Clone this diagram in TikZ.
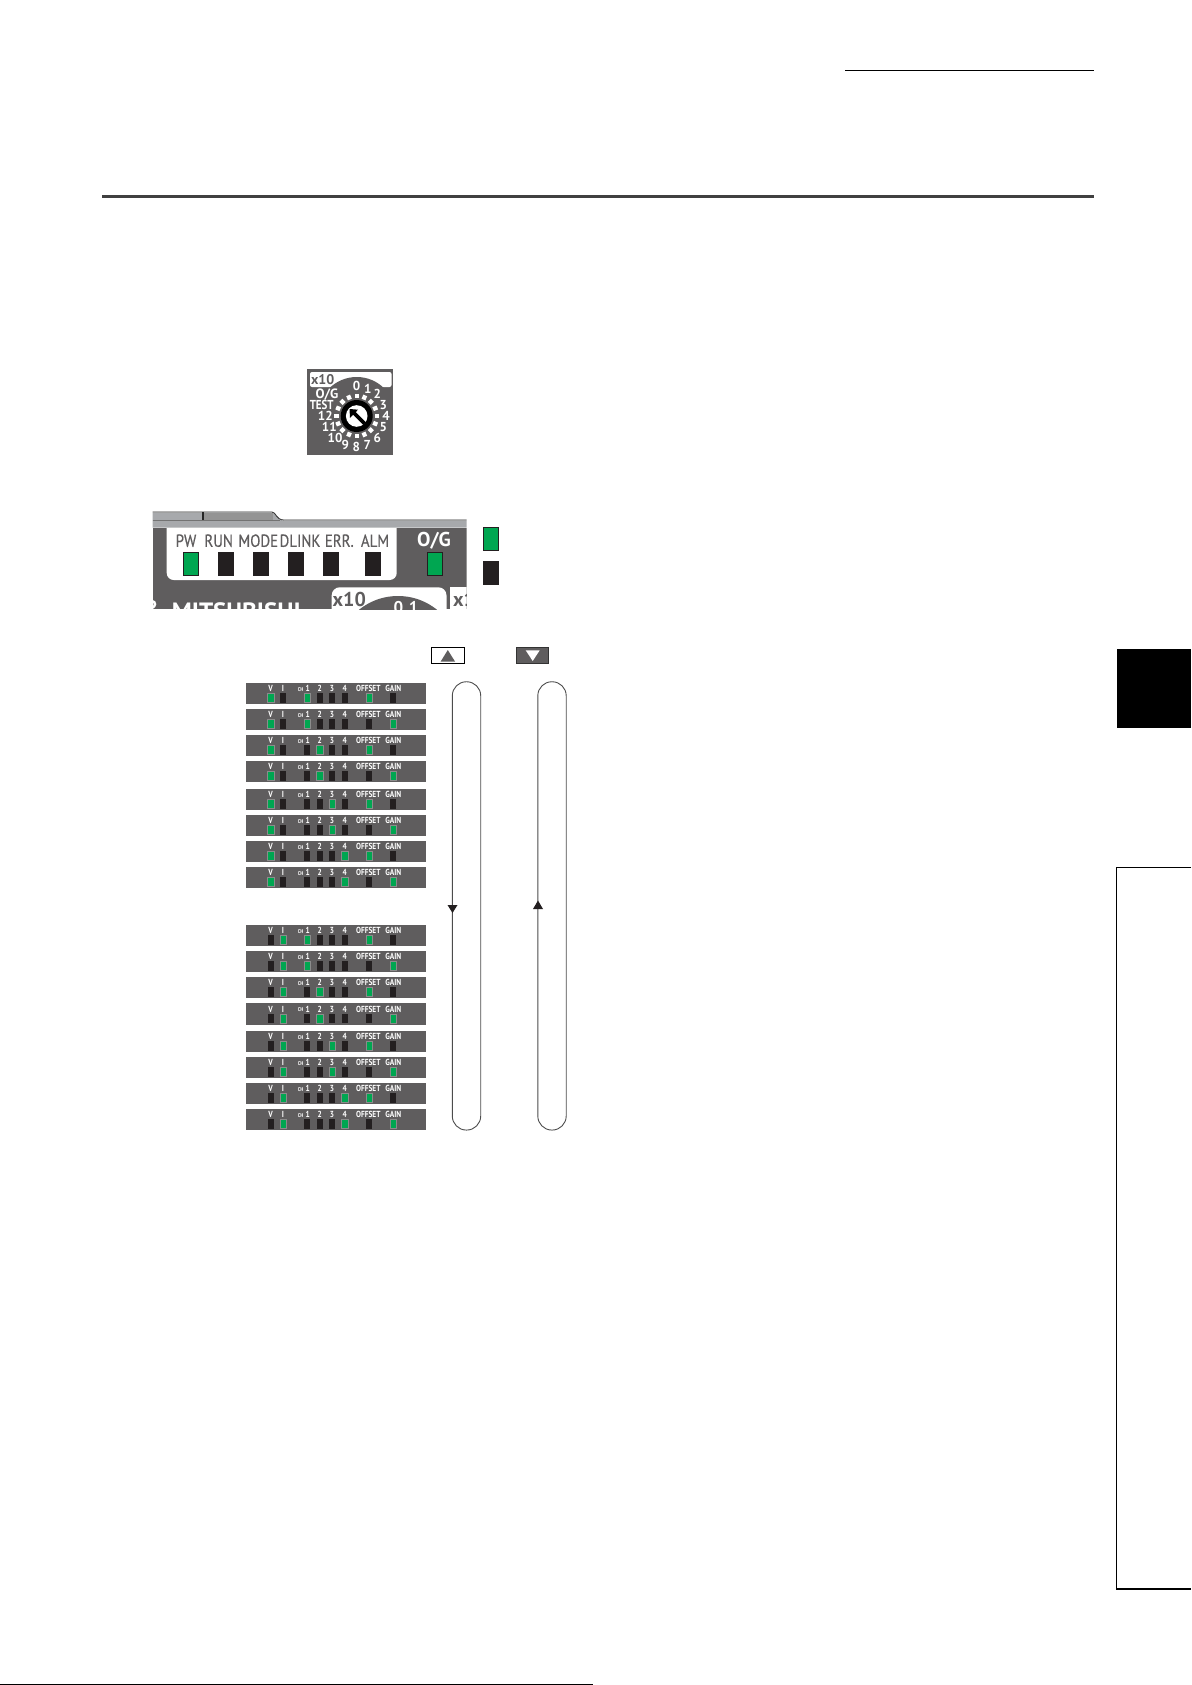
\documentclass[tikz,border=0pt]{standalone}
\usepackage{fontspec}
\setmainfont{PT Sans}
\newfontfamily\narrowfont[FakeStretch=0.85,FakeBold=0.4]{PT Sans}
\newfontfamily\stripfont[FakeStretch=0.84]{PT Sans}
\usepackage{tikz}

\definecolor{panelgray}{HTML}{5F5D5E}
\definecolor{bandgray}{HTML}{A7A9AC}
\definecolor{ledgreen}{HTML}{00A651}
\definecolor{ledblack}{HTML}{231F20}

% one strip: top edge, then x of lit V/I, CH and OFFSET/GAIN lamps
\newcommand{\ledstrip}[5]{
  \node[strip] (strip#1) at (336,#2+10.6) {};
  \node[striptext] (v#1) at (270.7,#2+5.6) {V};
  \node[striptext] (i#1) at (283,#2+5.6) {I};
  \node[striptext,font=\stripfont\bfseries\fontsize{5.5}{5.5}\selectfont] (ch#1) at (300.7,#2+6.2) {CH};
  \node[striptext] (one#1) at (307.7,#2+5.6) {1};
  \node[striptext] (two#1) at (319.7,#2+5.6) {2};
  \node[striptext] (three#1) at (332,#2+5.6) {3};
  \node[striptext] (four#1) at (344.7,#2+5.6) {4};
  \node[striptext] (off#1) at (368.3,#2+5.6) {OFFSET};
  \node[striptext] (gain#1) at (393.3,#2+5.6) {GAIN};
  \foreach \lampx in {270.7,283,307.3,319.7,332,344.7,369,393.3}
    \node[lampoff] at (\lampx,#2+15) {};
  \node[lampon] (a#1) at (#3,#2+15) {};
  \node[lampon] (b#1) at (#4,#2+15) {};
  \node[lampon] (c#1) at (#5,#2+15) {};
}

\begin{document}
\begin{tikzpicture}
  [x=1pt,y=-1pt]

  \tikzstyle{strip} = [fill=panelgray,minimum width=180,minimum height=21.3,inner sep=0]
  \tikzstyle{striptext} = [text=white,inner sep=0,font=\stripfont\bfseries\fontsize{8.8}{8.8}\selectfont]
  \tikzstyle{lampoff} = [fill=ledblack,minimum width=5.8,minimum height=9.2,inner sep=0]
  \tikzstyle{lampon} = [fill=ledgreen,draw=black!45,line width=.4,minimum width=6.2,minimum height=9.2,inner sep=0]
  \tikzstyle{bigled} = [minimum width=14.4,minimum height=23.4,inner sep=0,draw=ledblack,line width=.8]
  \tikzstyle{ledtext} = [text=panelgray,inner sep=0,font=\narrowfont\fontsize{17.5}{17.5}\selectfont]
  \tikzstyle{dialtext} = [text=white,inner sep=0,font=\bfseries\fontsize{13}{13}\selectfont]
  \tikzstyle{loopbox} = [draw=black!70,line width=.9,rounded corners=14,minimum width=28.4,minimum height=448.3,inner sep=0]

  \useasboundingbox (0,0) rectangle (1191,1685);

  % page furniture
  \draw[line width=1] (845,71) -- (1094,71);
  \draw[line width=3,draw=black!75] (102,197) -- (1094,197);
  \fill[black] (1117,649) rectangle (1191,727.7);
  \draw[line width=1.2] (1191,867.3) -- (1116.5,867.3) -- (1116.5,1589) -- (1191,1589);
  \draw[line width=1.2] (0,1684.2) -- (593,1684.2);

  % dial
  \fill[panelgray] (307.3,369) rectangle (392.7,455);
  \begin{scope}
    \clip (307.3,369) rectangle (392.7,455);
    \fill[white,rounded corners=2] (310,372) rectangle (391.5,387);
    \fill[panelgray] (356.7,416) circle (39);
  \end{scope}
  \foreach \tick in {0,22.5,...,337.5}
    \fill[white,rotate around={\tick:(356.7,416)}] (354.6,393.7) rectangle (358.8,398.2);
  \fill[black] (356.7,416) circle (16);
  \fill[white] (356.7,416) circle (10.8);
  \draw[line width=3.6] (364.7,423.7) -- (353,412);
  \fill[black] (349.5,409) -- (358,409.7) -- (350,418) -- cycle;

  \node[dialtext,text=panelgray,font=\bfseries\fontsize{14}{14}\selectfont] (dialname) at (322.7,380) {x10};
  \node[dialtext] (pos0) at (356.5,385.7) {0};
  \node[dialtext] (pos1) at (367.7,388.7) {1};
  \node[dialtext] (pos2) at (377.3,394.3) {2};
  \node[dialtext] (pos3) at (383.3,405) {3};
  \node[dialtext] (pos4) at (386,416) {4};
  \node[dialtext] (pos5) at (383.3,427.3) {5};
  \node[dialtext] (pos6) at (377.3,438.3) {6};
  \node[dialtext] (pos7) at (367.3,445) {7};
  \node[dialtext] (pos8) at (356.3,446.7) {8};
  \node[dialtext] (pos9) at (345.3,444.7) {9};
  \node[dialtext] (pos10) at (335,438.3) {10};
  \node[dialtext] (pos11) at (329.3,427.3) {11};
  \node[dialtext] (pos12) at (325.3,416) {12};
  \node[dialtext,font=\stripfont\bfseries\fontsize{13}{13}\selectfont] (postest) at (321.7,405) {TEST};
  \node[dialtext,font=\bfseries\fontsize{13.5}{13.5}\selectfont] (posog) at (327,394.3) {O/G};

  % front panel
  \begin{scope}
    \clip (152.7,505) rectangle (466.7,609.3);
    \fill[panelgray] (152.7,527.7) rectangle (466.7,609.3);
    \fill[white,rounded corners=7] (166.7,515) rectangle (396.7,580);
    \fill[bandgray] (152.7,512.5) -- (272,512.5) .. controls (276,512.5) and (276,520.5) .. (284,520.5) -- (466.7,520.5) -- (466.7,527.7) -- (152.7,527.7) -- cycle;
    \fill[black!42] (203.5,512.5) rectangle (272.5,520);
    \draw[line width=.8,draw=black!85] (152.7,512) -- (272,512) .. controls (276,512) and (276,520) .. (284,520) -- (466.7,520);
    \draw[line width=.7,draw=black!55] (152.7,520) -- (280,520);
    \draw[line width=.7,draw=black!85] (202,512) -- (202,520);
    \draw[line width=.7,draw=black!85] (203.5,512) -- (203.5,520);

    \fill[white,rounded corners=8] (331.7,620) -- (331.7,587.3) -- (446.5,587.3) [sharp corners] -- (446.5,620) -- cycle;
    \fill[white] (450,587.3) rectangle (466.7,620);
    \fill[panelgray] (398,658) circle (62);
    \node[text=panelgray,inner sep=0,font=\bfseries\fontsize{20}{20}\selectfont] (lowx) at (349.3,599.5) {x10};
    \node[text=panelgray,inner sep=0,font=\bfseries\fontsize{20}{20}\selectfont,anchor=west] (lowxx) at (453,599.5) {x1};
    \node[text=white,inner sep=0,font=\bfseries\fontsize{17}{17}\selectfont] (lowpos) at (406,607.8) {0\,\,1};
    \node[text=white,inner sep=0,font=\bfseries\fontsize{25}{25}\selectfont,anchor=north west] (maker) at (171.7,602.5) {MITSUBISHI};
    \draw[white,line width=2.5] (152,601) .. controls (156,602) and (156,606) .. (152,608);
  \end{scope}

  \node[ledtext] (pw) at (186,540.7) {PW};
  \node[ledtext] (run) at (218.7,540.7) {RUN};
  \node[ledtext] (mode) at (258.3,540.7) {MODE};
  \node[ledtext] (dlink) at (300,540.7) {DLINK};
  \node[ledtext] (err) at (339.3,540.7) {ERR.};
  \node[ledtext] (alm) at (375,540.7) {ALM};
  \node[text=white,inner sep=0,font=\bfseries\fontsize{20}{20}\selectfont] (ogtext) at (434,540.7) {O/G};

  \node[bigled,fill=ledgreen] (pwled) at (191,564) {};
  \node[bigled,fill=ledblack] (runled) at (226,564) {};
  \node[bigled,fill=ledblack] (modeled) at (261,564) {};
  \node[bigled,fill=ledblack] (dlinkled) at (296,564) {};
  \node[bigled,fill=ledblack] (errled) at (331,564) {};
  \node[bigled,fill=ledblack] (almled) at (372.7,564) {};
  \node[bigled,fill=ledgreen] (ogled) at (434.7,564) {};

  \node[bigled,fill=ledgreen] (keyon) at (490.7,539) {};
  \node[bigled,fill=ledblack] (keyoff) at (490.7,573) {};

  % buttons
  \node[draw=black,fill=white,line width=.9,minimum width=33.5,minimum height=16,inner sep=0] (upbtn) at (447.8,655.3) {};
  \node[draw=black!80,fill=panelgray,line width=.9,minimum width=32.5,minimum height=16,inner sep=0] (downbtn) at (532.5,655.3) {};
  \fill[panelgray] (440.7,661.5) -- (455,661.5) -- (447.8,650) -- cycle;
  \fill[white] (525.7,650.3) -- (539.7,650.3) -- (532.7,661) -- cycle;

  % lamp strips
  \ledstrip{a}{683}{270.7}{307.3}{369}
  \ledstrip{b}{709}{270.7}{307.3}{393.3}
  \ledstrip{c}{735}{270.7}{319.7}{369}
  \ledstrip{d}{761}{270.7}{319.7}{393.3}
  \ledstrip{e}{789}{270.7}{332}{369}
  \ledstrip{f}{815}{270.7}{332}{393.3}
  \ledstrip{g}{841}{270.7}{344.7}{369}
  \ledstrip{h}{867}{270.7}{344.7}{393.3}

  \ledstrip{i}{925}{283}{307.3}{369}
  \ledstrip{j}{951}{283}{307.3}{393.3}
  \ledstrip{k}{977}{283}{319.7}{369}
  \ledstrip{l}{1003.5}{283}{319.7}{393.3}
  \ledstrip{m}{1031}{283}{332}{369}
  \ledstrip{n}{1057}{283}{332}{393.3}
  \ledstrip{o}{1083}{283}{344.7}{369}
  \ledstrip{p}{1109}{283}{344.7}{393.3}

  % selection loops
  \node[loopbox] (leftloop) at (466.5,905.9) {};
  \node[loopbox] (rightloop) at (552,905.9) {};
  \fill[ledblack] (447.5,905) -- (457.5,905) -- (452.5,913) -- cycle;
  \fill[ledblack] (533,909) -- (543,909) -- (538,900.5) -- cycle;
\end{tikzpicture}
\end{document}
